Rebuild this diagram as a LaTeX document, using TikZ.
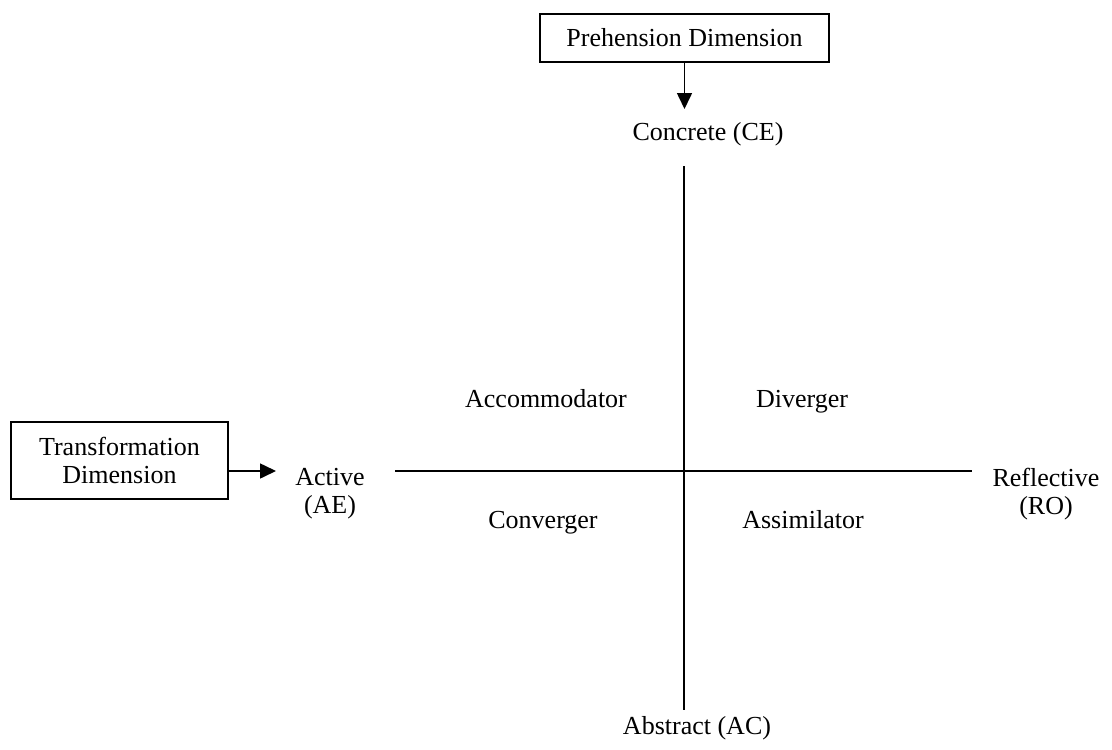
\documentclass[tikz,border=0pt]{standalone}
\usepackage{fontspec}
\setmainfont{Liberation Serif}
\usetikzlibrary{arrows.meta}
\begin{document}
\begin{tikzpicture}[x=1pt,y=-1pt,
  every node/.style={font=\fontsize{26}{28}\selectfont, inner sep=0pt},
  dimbox/.style={draw, line width=1.5pt, align=center},
  axis/.style={line width=1.6pt},
  arr/.style={line width=1.6pt, -{Triangle[length=16pt,width=15pt]}},
  lbl/.style={anchor=base},
  pole/.style={align=center}
]
\useasboundingbox (0,0) rectangle (1112,750);

% boxes
\node[dimbox, minimum width=289pt, minimum height=48pt] (preh) at (684.5,38) {Prehension Dimension};
\node[dimbox, minimum width=217pt, minimum height=77pt] (trans) at (119.5,460.5) {Transformation\\Dimension};

% poles
\node[lbl] (ce) at (708,140) {Concrete (CE)};
\node[lbl] (ac) at (697,734) {Abstract (AC)};
\node[pole] (ae) at (330,494) {Active\\(AE)};
\node[pole] (ro) at (1046,494) {Reflective\\(RO)};

% quadrant labels
\node[lbl] (acc) at (546,407) {Accommodator};
\node[lbl] (div) at (802,407) {Diverger};
\node[lbl] (con) at (543,528) {Converger};
\node[lbl] (ass) at (803,528) {Assimilator};

% axes
\coordinate (vtop) at (684,166);
\coordinate (vbot) at (684,710);
\coordinate (hleft) at (395,471);
\coordinate (hright) at (972,471);
\draw[axis] (vtop) -- (vbot);
\draw[axis] (hleft) -- (hright);

% arrows
\coordinate (ceTip) at (684.5,109);
\coordinate (aeTip) at (276,471);
\draw[arr] (preh.south) -- (ceTip);
\draw[arr] (trans.east |- aeTip) -- (aeTip);
\end{tikzpicture}
\end{document}
